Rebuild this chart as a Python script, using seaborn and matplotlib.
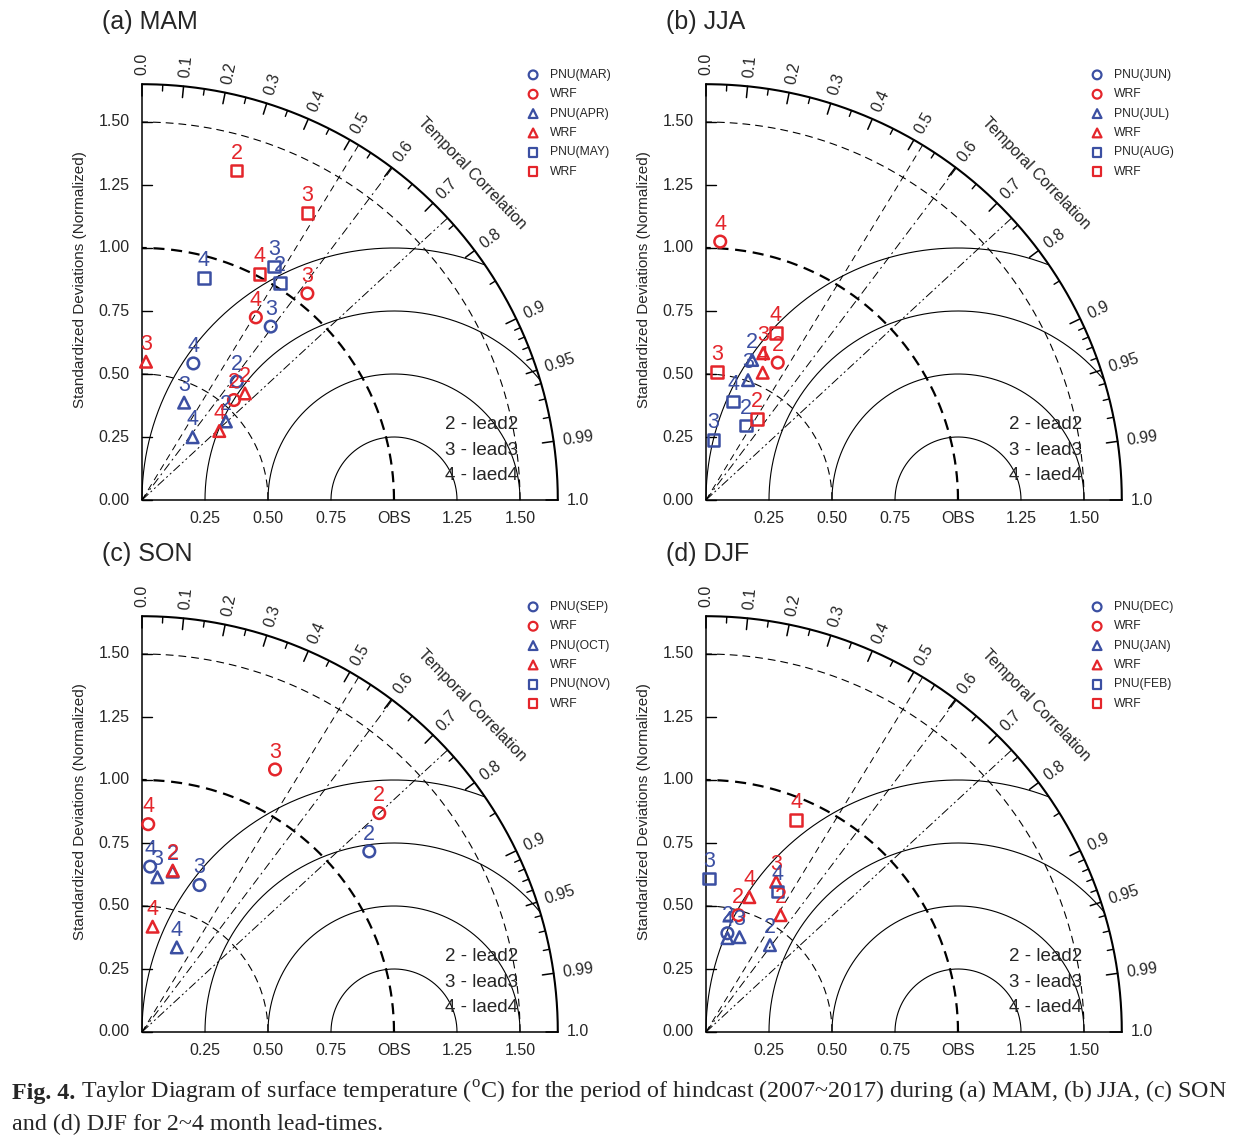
import numpy as np
import pandas as pd
import matplotlib
matplotlib.use("Agg")
import matplotlib.pyplot as plt
import seaborn as sns

BLUE = "#3b4fa2"
RED = "#e4252b"
RMAX = 1.65

# correlation axis ticks
CORR_MAJOR = [0.0, 0.1, 0.2, 0.3, 0.4, 0.5, 0.6, 0.7, 0.8, 0.9, 0.95, 0.99, 1.0]
CORR_MINOR = [0.05, 0.15, 0.25, 0.35, 0.45, 0.55, 0.65, 0.75, 0.85,
              0.91, 0.92, 0.93, 0.94, 0.96, 0.97, 0.98]
# significance lines (90 / 95 / 99 %)
SIG_CORR = [0.521, 0.602, 0.735]
STD_TICKS = [0.0, 0.25, 0.5, 0.75, 1.0, 1.25, 1.5]
X_TICKS = [0.25, 0.5, 0.75, 1.0, 1.25, 1.5]
X_TICK_LABELS = ["0.25", "0.50", "0.75", "OBS", "1.25", "1.50"]
RMS_LEVELS = [0.25, 0.5, 0.75, 1.0]
LEADS = [2, 3, 4]

nan = np.nan
# rows: PNU o, WRF o, PNU ^, WRF ^, PNU s, WRF s ; columns: lead2, lead3, lead4
MAM_STD = [[0.602, 0.857, 0.579], [0.539, 1.050, 0.854], [0.456, 0.421, 0.320],
           [0.588, 0.549, 0.411], [1.020, 1.064, 0.914], [1.360, 1.315, 1.010]]
MAM_COR = [[0.625, 0.596, 0.352], [0.677, 0.625, 0.529], [0.730, 0.397, 0.628],
           [0.695, 0.029, 0.746], [0.537, 0.492, 0.269], [0.276, 0.499, 0.461]]
JJA_STD = [[nan, nan, nan], [0.615, nan, 1.027], [0.585, 0.504, nan],
           [nan, 0.625, 0.553], [0.335, 0.240, 0.405], [0.379, 0.509, 0.719]]
JJA_COR = [[nan, nan, nan], [0.463, nan, 0.055], [0.313, 0.331, nan],
           [nan, 0.363, 0.407], [0.474, 0.121, 0.267], [0.531, 0.088, 0.385]]
SON_STD = [[1.152, 0.626, 0.657], [1.281, 1.168, 0.825], [0.648, 0.617, 0.363],
           [0.652, nan, 0.420], [nan, nan, nan], [nan, nan, nan]]
SON_COR = [[0.783, 0.364, 0.049], [0.735, 0.452, 0.030], [0.188, 0.099, 0.380],
           [0.187, nan, 0.100], [nan, nan, nan], [nan, nan, nan]]
DJF_STD = [[0.401, nan, nan], [0.481, nan, nan], [0.428, 0.399, 0.382],
           [0.550, 0.658, 0.562], [nan, 0.610, 0.625], [nan, nan, 0.914]]
DJF_COR = [[0.212, nan, nan], [0.266, nan, nan], [0.593, 0.333, 0.223],
           [0.538, 0.423, 0.306], [nan, 0.021, 0.453], [nan, nan, 0.391]]

MAM_NAMES = ["PNU(MAR)", "WRF", "PNU(APR)", "WRF", "PNU(MAY)", "WRF"]
JJA_NAMES = ["PNU(JUN)", "WRF", "PNU(JUL)", "WRF", "PNU(AUG)", "WRF"]
SON_NAMES = ["PNU(SEP)", "WRF", "PNU(OCT)", "WRF", "PNU(NOV)", "WRF"]
DJF_NAMES = ["PNU(DEC)", "WRF", "PNU(JAN)", "WRF", "PNU(FEB)", "WRF"]

MARKERS = ["o", "o", "^", "^", "s", "s"]
COLORS = [BLUE, RED, BLUE, RED, BLUE, RED]

sns.set_style("white")
plt.rcParams["font.family"] = ["Liberation Sans", "DejaVu Sans"]
plt.rcParams["mathtext.fontset"] = "custom"
plt.rcParams["mathtext.rm"] = "Liberation Serif"


def to_frame(std, cor):
    rows = []
    for i, (s_row, c_row) in enumerate(zip(std, cor)):
        for lead, s, c in zip(LEADS, s_row, c_row):
            if np.isnan(s):
                continue
            rows.append({"series": i, "lead": lead, "std": s, "corr": c})
    df = pd.DataFrame(rows)
    df["x"] = df["std"] * df["corr"]
    df["y"] = df["std"] * np.sqrt(1 - df["corr"] ** 2)
    return df


def draw_frame(ax):
    th = np.linspace(0, np.pi / 2, 400)
    ax.plot(RMAX * np.cos(th), RMAX * np.sin(th), color="k", lw=1.5, clip_on=False)
    ax.plot([0, RMAX], [0, 0], color="k", lw=1.1, clip_on=False)
    ax.plot([0, 0], [0, RMAX], color="k", lw=1.1, clip_on=False)

    # std arcs
    for r, lw, ls in [(0.5, 0.8, (0, (7, 4.5))), (1.0, 1.6, (0, (5, 3))),
                      (1.5, 0.8, (0, (7, 4.5)))]:
        ax.plot(r * np.cos(th), r * np.sin(th), color="k", lw=lw, ls=ls, clip_on=False)

    # RMSD arcs around OBS
    phi = np.linspace(0, np.pi, 600)
    for r in RMS_LEVELS:
        x = 1 + r * np.cos(phi)
        y = r * np.sin(phi)
        keep = np.hypot(x, y) <= RMAX
        ax.plot(x[keep], y[keep], color="k", lw=0.8, clip_on=False)

    # significance lines
    for c, ls in zip(SIG_CORR, [(0, (7, 5)), (0, (9, 4, 2, 4)), (0, (9, 3, 2, 3, 2, 3))]):
        ax.plot([0, RMAX * c], [0, RMAX * np.sqrt(1 - c * c)], color="k", lw=0.7,
                ls=ls, clip_on=False)

    # correlation ticks and labels
    for c in CORR_MAJOR:
        a = np.arccos(c)
        ax.plot([RMAX * np.cos(a), (RMAX - 0.045) * np.cos(a)],
                [RMAX * np.sin(a), (RMAX - 0.045) * np.sin(a)], color="k", lw=1.1,
                clip_on=False)
        ax.text(1.685 * np.cos(a), 1.685 * np.sin(a), str(c), rotation=np.degrees(a),
                rotation_mode="anchor", ha="left", va="center", fontsize=11.5)
    for c in CORR_MINOR:
        a = np.arccos(c)
        ax.plot([RMAX * np.cos(a), (RMAX - 0.025) * np.cos(a)],
                [RMAX * np.sin(a), (RMAX - 0.025) * np.sin(a)], color="k", lw=1.0,
                clip_on=False)

    # std axis
    for v in STD_TICKS:
        ax.plot([0, 0.04], [v, v], color="k", lw=1.0, clip_on=False)
        ax.text(-0.05, v, f"{v:.2f}", ha="right", va="center", fontsize=11.5)
    for v, lab in zip(X_TICKS, X_TICK_LABELS):
        ax.text(v, -0.072, lab, ha="center", va="center", fontsize=11.5)

    ax.text(-0.246, 0.873, "Standardized Deviations (Normalized)", rotation=90,
            ha="center", va="center", fontsize=11)
    ax.text(1.31, 1.298, "Temporal Correlation", rotation=-46, ha="center",
            va="center", fontsize=11.5)
    for k, txt in enumerate(["2 - lead2", "3 - lead3", "4 - laed4"]):
        ax.text(1.202, 0.298 - k * 0.101, txt, ha="left", va="center", fontsize=13.5)


def draw_panel(ax, title, names, std, cor):
    draw_frame(ax)
    df = to_frame(std, cor)
    for i in range(6):
        sub = df[df["series"] == i]
        if len(sub):
            sns.scatterplot(data=sub, x="x", y="y", marker=MARKERS[i], s=70,
                            facecolor="none", edgecolor=COLORS[i], linewidth=1.8,
                            ax=ax, legend=False, clip_on=False, zorder=5)
        for _, row in sub.iterrows():
            ax.annotate(str(int(row["lead"])), (row["x"], row["y"]), xytext=(0, 8.5),
                        textcoords="offset points", ha="center", va="baseline",
                        color=COLORS[i], fontsize=15.5, zorder=6)

    # legend
    for i, name in enumerate(names):
        yy = 1.687 - i * 0.0768
        ax.scatter([1.552], [yy], marker=MARKERS[i], s=40, facecolor="none",
                   edgecolor=COLORS[i], linewidth=1.6, clip_on=False)
        ax.text(1.619, yy, name, ha="left", va="center", fontsize=8.7)

    ax.text(-0.159, 1.897, title, ha="left", va="center", fontsize=18)
    ax.set_xlim(0, RMAX)
    ax.set_ylim(0, RMAX)
    ax.axis("off")


W, H = 1258, 1141
SCALE = 252
fig = plt.figure(figsize=(W / 100, H / 100), dpi=100)

panels = [
    ((142, 500), "(a) MAM", MAM_NAMES, MAM_STD, MAM_COR),
    ((706, 500), "(b) JJA", JJA_NAMES, JJA_STD, JJA_COR),
    ((142, 1032), "(c) SON", SON_NAMES, SON_STD, SON_COR),
    ((706, 1032), "(d) DJF", DJF_NAMES, DJF_STD, DJF_COR),
]
for (ox, oy), title, names, std, cor in panels:
    ax = fig.add_axes([ox / W, (H - oy) / H, RMAX * SCALE / W, RMAX * SCALE / H])
    draw_panel(ax, title, names, std, cor)

# caption
serif = ["Liberation Serif", "DejaVu Serif"]
cap_size = 17.3
base1 = 1 - 1099 / H
t1 = fig.text(12 / W, base1, "Fig. 4.", fontsize=cap_size, weight="bold",
              family=serif, ha="left", va="baseline")
fig.canvas.draw()
x_next = t1.get_window_extent().x1 / W + 6 / W
fig.text(x_next, base1,
         r"Taylor Diagram of surface temperature ($^{\rm o}$C) for the period of "
         r"hindcast (2007~2017) during (a) MAM, (b) JJA, (c) SON",
         fontsize=cap_size, family=serif, ha="left", va="baseline")
fig.text(12 / W, 1 - 1130 / H, "and (d) DJF for 2~4 month lead-times.",
         fontsize=cap_size, family=serif, ha="left", va="baseline")

fig.savefig("out.png", dpi=100)
